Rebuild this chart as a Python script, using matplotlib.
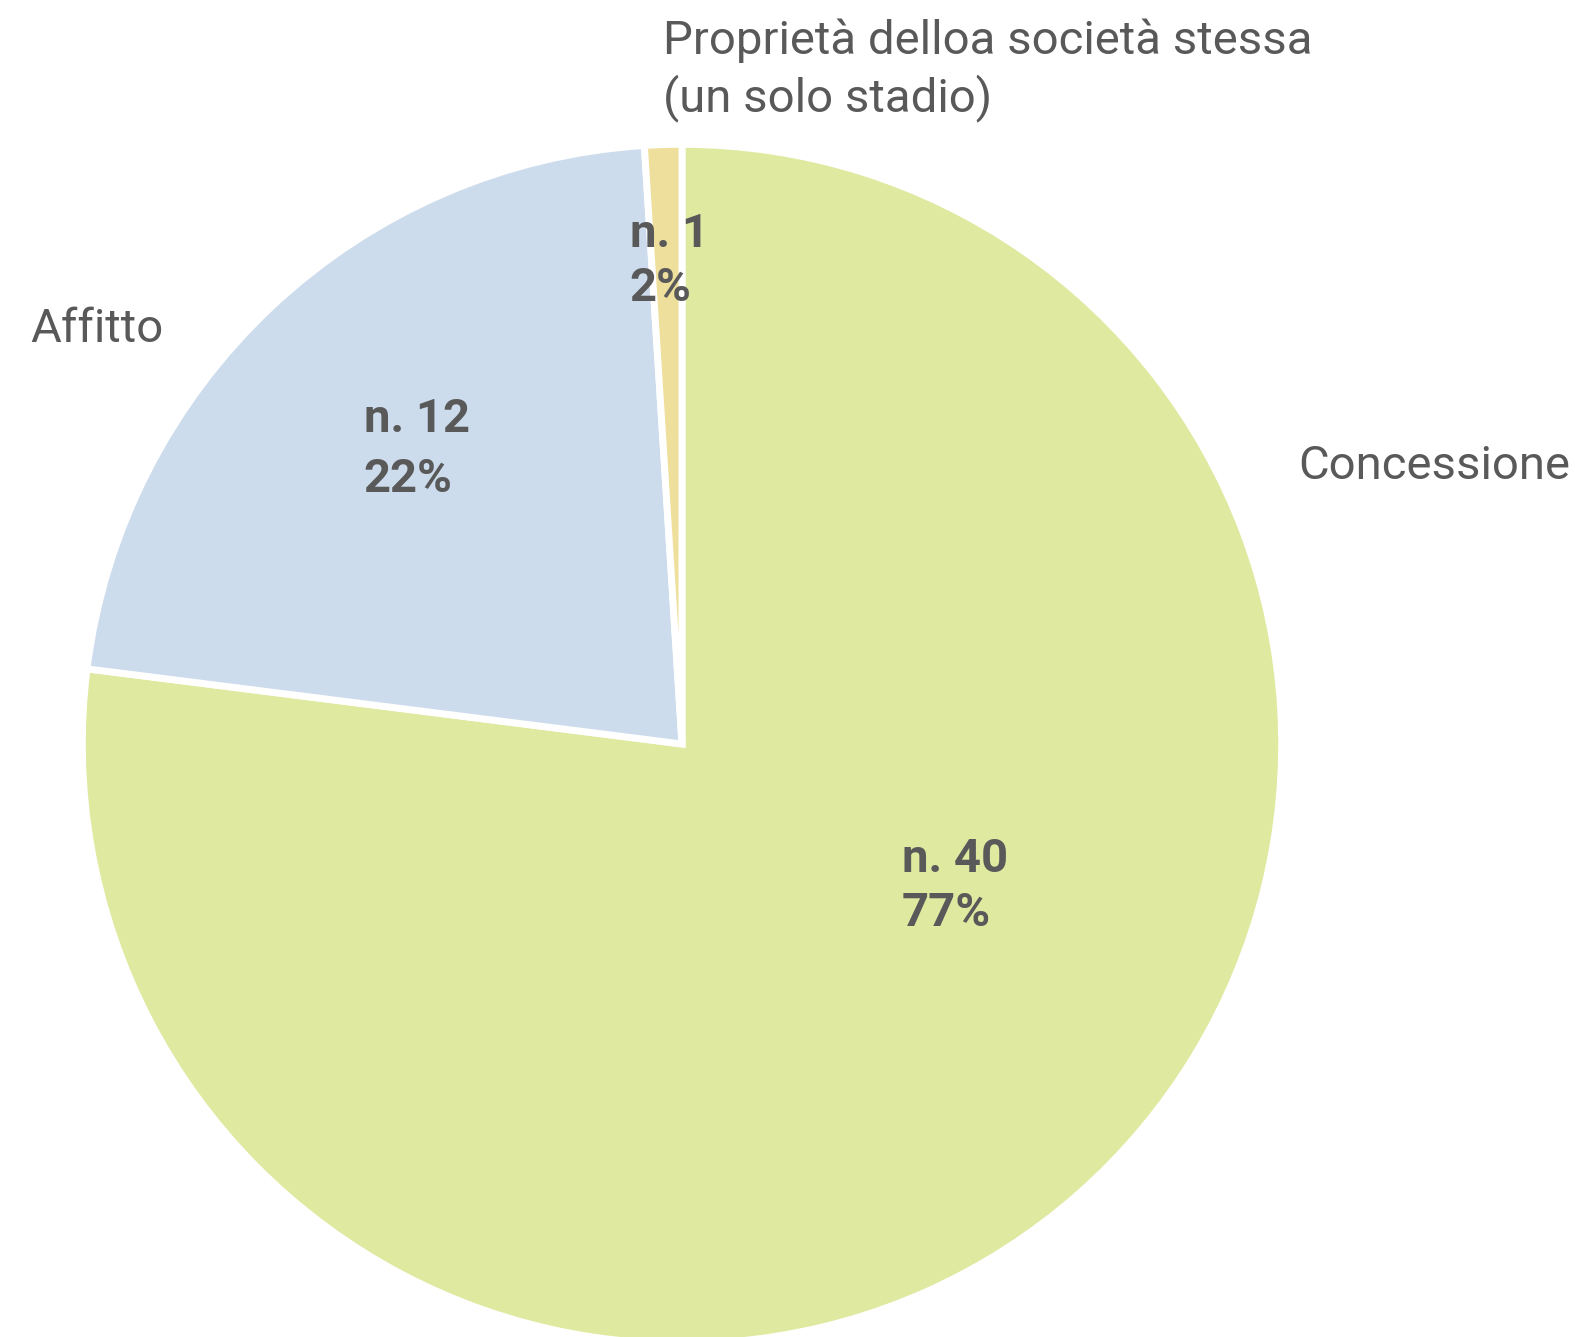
import matplotlib
matplotlib.use("Agg")
import matplotlib.pyplot as plt

# data
categories = ["Concessione", "Affitto", "Proprietà delloa società stessa\n(un solo stadio)"]
counts = [40, 12, 1]
shares = [77, 22, 1]          # slice sizes as drawn
pct_labels = ["77%", "22%", "2%"]
colors = ["#E0E9A0", "#CCDCEC", "#EEDF9C"]

# label placement (data coords, pie radius = 1)
inner_pos = [(0.367, -0.237), (-0.531, 0.492), (-0.087, 0.805)]
inner_spacing = [1.3, 1.45, 1.28]
outer_pos = [(1.028, 0.463), (-1.086, 0.692), (-0.032, 1.123)]

txt = "#595959"
plt.rcParams['font.family'] = ['Roboto', 'DejaVu Sans']

fig = plt.figure(figsize=(15.75, 13.37), dpi=100)
ax = fig.add_axes([82.3 / 1575, -7 / 1337, 1199.4 / 1575, 1200 / 1337])

ax.pie(shares, colors=colors, startangle=90, counterclock=False,
       wedgeprops=dict(edgecolor="white", linewidth=5))
ax.set_xlim(-1, 1)
ax.set_ylim(-1, 1)
ax.set_aspect("equal")
ax.axis("off")

for (x, y), n, p, ls in zip(inner_pos, counts, pct_labels, inner_spacing):
    ax.text(x, y, "n. %d\n%s" % (n, p), ha="left", va="center",
            fontsize=34, fontweight="bold", color=txt, linespacing=ls)

for (x, y), c in zip(outer_pos, categories):
    ax.text(x, y, c, ha="left", va="center", fontsize=34, color=txt,
            linespacing=1.3)

fig.savefig("out.png", dpi=100)
